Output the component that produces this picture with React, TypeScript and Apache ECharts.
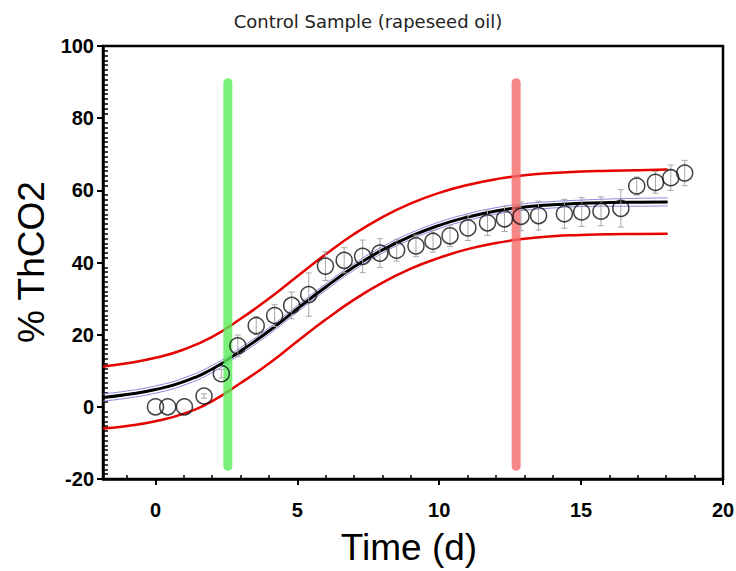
import { useEffect, useRef } from 'react';
import * as echarts from 'echarts';

// Observed data points
const timeDays = [0, 0.43, 1.02, 1.71, 2.32, 2.9, 3.55, 4.2, 4.8, 5.4, 5.99, 6.65, 7.3, 7.91, 8.5, 9.18, 9.78, 10.38, 11.01, 11.7, 12.3, 12.88, 13.5, 14.41, 15.02, 15.7, 16.4, 16.96, 17.62, 18.16, 18.65];
const thco2 = [0, 0, 0, 3.0, 9.2, 16.9, 22.5, 25.3, 28.1, 31.1, 39.0, 40.6, 41.7, 42.6, 43.4, 44.6, 45.9, 47.4, 49.6, 51.0, 52.1, 52.8, 53.0, 53.5, 54.0, 54.2, 55.0, 61.2, 62.2, 63.5, 64.8];
const errs = [0, 0, 0, 0.6, 1.2, 3.0, 2.5, 3.0, 3.7, 6.0, 4.0, 3.5, 4.5, 4.0, 3.0, 3.0, 3.0, 3.0, 3.5, 3.5, 3.5, 4.0, 4.0, 4.0, 4.0, 4.0, 5.2, 2.5, 3.0, 3.5, 3.5];

// Fitted curve and bands
const curveX = [-1.85, -1, 0, 1, 2, 3, 4, 5, 6, 7, 8, 9, 10, 11, 12, 13, 14, 15, 16, 17, 18.05];
const fitY = [2.6, 3.4, 4.8, 7.0, 10.5, 15.5, 21.0, 27.2, 33.2, 38.8, 43.5, 47.3, 50.3, 52.6, 54.3, 55.4, 56.0, 56.4, 56.6, 56.7, 56.8];
const confUpperY = [3.6, 4.4, 5.8, 8.0, 11.5, 16.4, 21.9, 28.1, 34.1, 39.7, 44.4, 48.2, 51.2, 53.5, 55.2, 56.3, 56.9, 57.3, 57.6, 57.8, 57.9];
const confLowerY = [1.6, 2.4, 3.8, 6.0, 9.5, 14.6, 20.1, 26.3, 32.3, 37.9, 42.6, 46.4, 49.4, 51.7, 53.4, 54.5, 55.1, 55.5, 55.6, 55.6, 55.7];
const predUpperY = [11.2, 12.1, 13.6, 15.9, 19.4, 24.4, 30.0, 36.2, 42.3, 47.9, 52.6, 56.4, 59.3, 61.5, 63.1, 64.2, 64.8, 65.2, 65.4, 65.6, 65.8];
const predLowerY = [-6.0, -5.3, -4.0, -1.9, 1.6, 6.6, 12.0, 18.2, 24.2, 29.7, 34.4, 38.3, 41.3, 43.7, 45.4, 46.6, 47.3, 47.6, 47.8, 47.9, 48.0];

// Marker lines
const greenMarkX = 2.55;
const redMarkX = 12.71;
const markYRange = [-16.5, 89.8];

// Ticks
const xMajorTicks = [0, 5, 10, 15, 20];
const xMinorTicks = [-1, 1, 2, 3, 4, 6, 7, 8, 9, 11, 12, 13, 14, 16, 17, 18, 19];

const pair = (xs: number[], ys: number[]) => xs.map((x, i) => [x, ys[i]]);

export default function App() {
  const ref = useRef<HTMLDivElement>(null);
  useEffect(() => {
    const chart = echarts.init(ref.current!, null, { renderer: 'svg' });
    const tickFont = { fontFamily: 'Liberation Sans', fontWeight: 'bold' as const, fontSize: 20, color: '#000' };
    chart.setOption({
      animation: false,
      backgroundColor: '#fff',
      title: {
        text: 'Control Sample (rapeseed oil)',
        left: 'center',
        top: 7,
        textStyle: { fontFamily: 'DejaVu Sans', fontSize: 18, fontWeight: 'normal', color: '#222' },
      },
      grid: {
        left: 103, right: 13, top: 46, bottom: 92,
        show: true, borderColor: '#000', borderWidth: 2.5,
        containLabel: false, outerBoundsMode: 'none',
      },
      xAxis: [
        {
          type: 'value', min: -1.85, max: 20, position: 'bottom',
          axisLine: { show: true, onZero: false, lineStyle: { color: '#000', width: 2.5 } },
          axisTick: { show: true, customValues: xMajorTicks, length: 6, lineStyle: { color: '#000', width: 2 } },
          axisLabel: { customValues: xMajorTicks, margin: 21, ...tickFont },
          splitLine: { show: false },
        },
        {
          type: 'value', min: -1.85, max: 20, position: 'bottom',
          axisLine: { show: false, onZero: false },
          axisTick: { show: true, inside: true, customValues: xMinorTicks, length: 4, lineStyle: { color: '#000', width: 1.5 } },
          axisLabel: { show: false },
          splitLine: { show: false },
        },
      ],
      yAxis: [
        {
          type: 'value', min: -20, max: 100, interval: 20, position: 'left',
          axisLine: { show: true, onZero: false, lineStyle: { color: '#000', width: 2.5 } },
          axisTick: { show: true, length: 6, lineStyle: { color: '#000', width: 2 } },
          axisLabel: { margin: 9, ...tickFont },
          splitLine: { show: false },
        },
        {
          type: 'value', min: -20, max: 100, interval: 20, position: 'left',
          axisLine: { show: false, onZero: false },
          axisTick: { show: false, inside: true },
          minorTick: { show: true, splitNumber: 15, length: 5, lineStyle: { color: '#000', width: 1.5 } },
          axisLabel: { show: false },
          splitLine: { show: false },
        },
      ],
      graphic: [
        {
          type: 'text', x: 409, y: 547,
          style: { text: 'Time (d)', fontFamily: 'Liberation Sans', fontSize: 37, fill: '#000', align: 'center', verticalAlign: 'middle', textAlign: 'center', textVerticalAlign: 'middle' },
        },
        {
          type: 'text', x: 31, y: 262, rotation: Math.PI / 2,
          style: { text: '% ThCO2', fontFamily: 'Liberation Sans', fontSize: 37, fill: '#000', align: 'center', verticalAlign: 'middle', textAlign: 'center', textVerticalAlign: 'middle' },
        },
      ],
      series: [
        { type: 'line', data: pair(curveX, confUpperY), smooth: true, showSymbol: false, symbol: 'none', lineStyle: { color: '#8585dc', width: 1 }, z: 2 },
        { type: 'line', data: pair(curveX, confLowerY), smooth: true, showSymbol: false, symbol: 'none', lineStyle: { color: '#8585dc', width: 1 }, z: 2 },
        { type: 'line', data: pair(curveX, predUpperY), smooth: true, showSymbol: false, symbol: 'none', lineStyle: { color: '#e60000', width: 2.5 }, z: 2 },
        { type: 'line', data: pair(curveX, predLowerY), smooth: true, showSymbol: false, symbol: 'none', lineStyle: { color: '#e60000', width: 2.5 }, z: 2 },
        { type: 'line', data: pair(curveX, fitY), smooth: true, showSymbol: false, symbol: 'none', lineStyle: { color: '#000', width: 3 }, z: 3 },
        {
          type: 'line', data: [[greenMarkX, markYRange[0]], [greenMarkX, markYRange[1]]], symbol: 'none',
          lineStyle: { color: 'rgba(90,236,90,0.8)', width: 9, cap: 'round' }, z: 4,
        },
        {
          type: 'line', data: [[redMarkX, markYRange[0]], [redMarkX, markYRange[1]]], symbol: 'none',
          lineStyle: { color: 'rgba(242,105,105,0.8)', width: 9, cap: 'round' }, z: 4,
        },
        {
          type: 'custom', z: 5,
          data: timeDays.map((t, i) => [t, thco2[i] - errs[i], thco2[i] + errs[i]]).filter((d, i) => errs[i] > 0),
          encode: { x: 0, y: [1, 2] },
          renderItem: (params: any, api: any) => {
            const x = api.value(0);
            const top = api.coord([x, api.value(2)]);
            const bot = api.coord([x, api.value(1)]);
            const w = 3;
            const st = { stroke: '#a8a8a8', lineWidth: 1 };
            return {
              type: 'group',
              children: [
                { type: 'line', shape: { x1: top[0], y1: top[1], x2: bot[0], y2: bot[1] }, style: st },
                { type: 'line', shape: { x1: top[0] - w, y1: top[1], x2: top[0] + w, y2: top[1] }, style: st },
                { type: 'line', shape: { x1: bot[0] - w, y1: bot[1], x2: bot[0] + w, y2: bot[1] }, style: st },
              ],
            };
          },
        },
        {
          type: 'scatter', z: 6,
          data: pair(timeDays, thco2),
          symbol: 'circle', symbolSize: 16,
          itemStyle: { color: 'rgba(255,255,255,0)', borderColor: '#111', borderWidth: 1.5 },
        },
      ],
    });
    return () => chart.dispose();
  }, []);
  return <div ref={ref} style={{ position: 'fixed', left: 0, top: 0, width: 736, height: 571, background: '#fff' }} />;
}
